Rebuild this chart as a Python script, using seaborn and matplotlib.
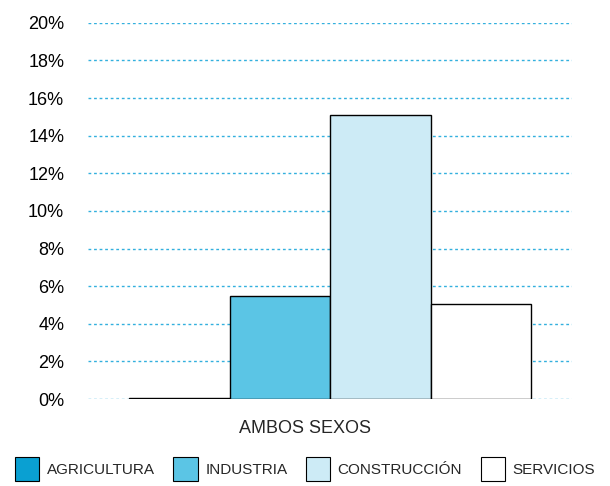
import pandas as pd
import matplotlib.pyplot as plt
import seaborn as sns
from matplotlib.ticker import PercentFormatter

grupo = ["AMBOS SEXOS"]
sectores = ["AGRICULTURA", "INDUSTRIA", "CONSTRUCCIÓN", "SERVICIOS"]
valores = [0.04, 5.5, 15.1, 5.05]
colores = ["#0aa0d2", "#5bc5e5", "#cdebf6", "#ffffff"]
yticks = [0, 2, 4, 6, 8, 10, 12, 14, 16, 18, 20]

df = pd.DataFrame({"grupo": grupo * len(sectores), "sector": sectores, "valor": valores})

sns.set_style("white")
plt.rcParams['font.family'] = ['Liberation Sans', 'DejaVu Sans']

fig = plt.figure(figsize=(6.1, 4.86), dpi=100)
ax = fig.add_axes([0.144, 0.179, 0.794, 0.774])

sns.barplot(data=df, x="grupo", y="valor", hue="sector", hue_order=sectores,
            palette=colores, saturation=1, width=0.83, edgecolor="black",
            linewidth=1, ax=ax, legend=False)

ax.set_ylim(0, 20)
ax.set_yticks(yticks)
ax.yaxis.set_major_formatter(PercentFormatter(decimals=0))
ax.grid(axis="y", color="#33b0de", linestyle=(0, (2, 2)), linewidth=1)
ax.set_axisbelow(True)
for s in ax.spines.values():
    s.set_visible(False)
ax.tick_params(axis="y", length=0, pad=17, labelsize=13, colors="black")
ax.set_xticks([])
ax.set_xlabel("")
ax.set_ylabel("")
fig.text(0.5, 0.119, "AMBOS SEXOS", ha="center", va="center", fontsize=13)

handles = [plt.Rectangle((0, 0), 1, 1, facecolor=c, edgecolor="black", linewidth=0.8)
           for c in colores]
fig.legend(handles, sectores, loc="center", bbox_to_anchor=(0.5, 0.035), ncol=4,
           frameon=False, handlelength=1.6, handleheight=2.0, handletextpad=0.5,
           columnspacing=1.2, fontsize=11, borderaxespad=0)

fig.savefig("out.png", dpi=100)
